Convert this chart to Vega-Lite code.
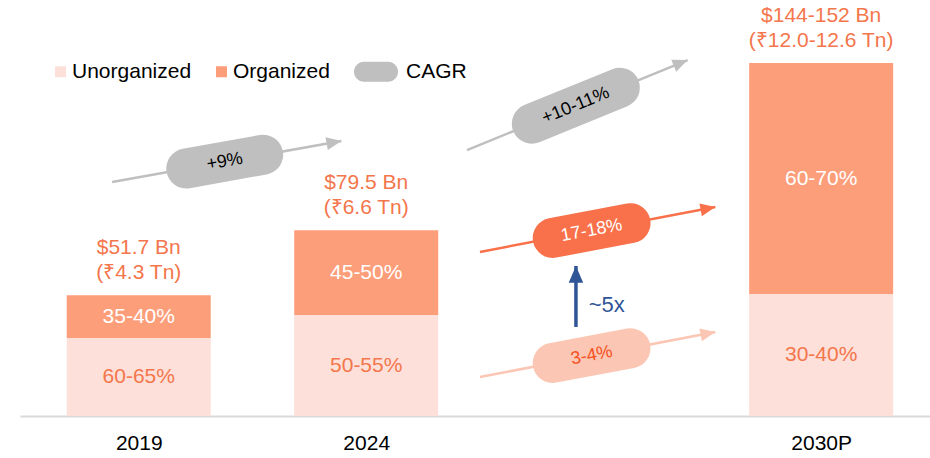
{
  "$schema": "https://vega.github.io/schema/vega-lite/v6.json",
  "width": 910,
  "height": 416,
  "autosize": {"type": "none"},
  "padding": {"left": 20, "top": 0, "right": 0, "bottom": 42},
  "background": "white",
  "config": {"view": {"stroke": null}, "font": "Liberation Sans"},
  "datasets": {
    "bars": [
      {"slot": 0, "year": "2019", "segment": "Unorganized", "value": 33.4, "share": "60-65%"},
      {"slot": 0, "year": "2019", "segment": "Organized", "value": 18.3, "share": "35-40%"},
      {"slot": 1, "year": "2024", "segment": "Unorganized", "value": 43.2, "share": "50-55%"},
      {"slot": 1, "year": "2024", "segment": "Organized", "value": 36.3, "share": "45-50%"},
      {"slot": 3, "year": "2030P", "segment": "Unorganized", "value": 52.2, "share": "30-40%"},
      {"slot": 3, "year": "2030P", "segment": "Organized", "value": 98.8, "share": "60-70%"}
    ],
    "totals": [
      {"slot": 0, "total": 51.7, "label": "$51.7 Bn\n(₹4.3 Tn)"},
      {"slot": 1, "total": 79.5, "label": "$79.5 Bn\n(₹6.6 Tn)"},
      {"slot": 3, "total": 151, "label": "$144-152 Bn\n(₹12.0-12.6 Tn)"}
    ],
    "arrows": [
      {"kind": "gray", "x": -0.117, "y": 100.1, "x2": 0.891, "y2": 117.7},
      {"kind": "gray", "x": 1.443, "y": 113.8, "x2": 2.413, "y2": 152.3},
      {"kind": "orange", "x": 1.5, "y": 70.2, "x2": 2.535, "y2": 89.4},
      {"kind": "light", "x": 1.5, "y": 16.7, "x2": 2.535, "y2": 35.9},
      {"kind": "blue", "x": 1.922, "y": 38.1, "x2": 1.922, "y2": 64.2}
    ],
    "pills": [
      {"kind": "gray", "x": 0.209, "y": 105.9, "x2": 0.547, "y2": 111.8, "label": "+9%"},
      {"kind": "gray", "x": 1.728, "y": 125.1, "x2": 2.115, "y2": 140.5, "label": "+10-11%"},
      {"kind": "orange", "x": 1.82, "y": 76.2, "x2": 2.162, "y2": 82.5, "label": "17-18%"},
      {"kind": "light", "x": 1.82, "y": 22.7, "x2": 2.162, "y2": 29.0, "label": "3-4%"}
    ],
    "callout": [
      {"x": 1.978, "y": 47.5, "label": "~5x"}
    ]
  },
  "layer": [
    {
      "data": {"name": "bars"},
      "transform": [
        {"stack": "value", "groupby": ["slot"], "sort": [{"field": "segment", "order": "descending"}], "as": ["v0", "v1"]},
        {"calculate": "(datum.v0 + datum.v1) / 2", "as": "mid"}
      ],
      "layer": [
        {
          "mark": {"type": "bar", "size": 144},
          "encoding": {
            "x": {
              "field": "slot", "type": "quantitative",
              "scale": {"domain": [-0.5, 3.4565], "nice": false, "zero": false},
              "axis": {
                "values": [0, 1, 3],
                "labelExpr": "datum.value == 0 ? '2019' : datum.value == 1 ? '2024' : '2030P'",
                "grid": false, "ticks": false, "title": null,
                "domainColor": "#d9d9d9", "domainWidth": 2,
                "labelFontSize": 21, "labelColor": "#000000", "labelPadding": 16,
                "labelFont": "Liberation Sans"
              }
            },
            "y": {"field": "v0", "type": "quantitative", "scale": {"domain": [0, 178], "nice": false}, "axis": null},
            "y2": {"field": "v1"},
            "color": {
              "field": "segment", "type": "nominal",
              "scale": {"domain": ["Unorganized", "Organized", "CAGR"], "range": ["#fde0d9", "#fd9e7b", "#bfbfbf"]},
              "legend": {
                "orient": "none", "legendX": 35, "legendY": 61,
                "direction": "horizontal", "title": null,
                "labelFontSize": 21, "labelColor": "#000000", "labelFont": "Liberation Sans",
                "symbolType": "square", "symbolSize": 121, "symbolStrokeWidth": 0,
                "labelOffset": -4, "columnPadding": 24, "padding": 0,
                "encode": {
                  "symbols": {"update": {
                    "shape": {"signal": "datum.value === 'CAGR' ? 'M-2.18,-1.82L2.18,-1.82A1.82,1.82 0 0 1 2.18,1.82L-2.18,1.82A1.82,1.82 0 0 1 -2.18,-1.82Z' : 'square'"},
                    "x": {"signal": "datum.value === 'CAGR' ? 22 : 5.5"}
                  }},
                  "labels": {"update": {
                    "dx": {"signal": "datum.value === 'CAGR' ? 35 : 0"}
                  }}
                }
              }
            }
          }
        },
        {
          "mark": {"type": "text", "fontSize": 21, "baseline": "middle", "align": "center"},
          "encoding": {
            "x": {"field": "slot", "type": "quantitative"},
            "y": {"field": "mid", "type": "quantitative"},
            "text": {"field": "share"},
            "color": {"condition": {"test": "datum.segment === 'Organized'", "value": "#ffffff"}, "value": "#f4764c"}
          }
        }
      ]
    },
    {
      "data": {"name": "totals"},
      "mark": {"type": "text", "fontSize": 21, "baseline": "bottom", "align": "center", "lineBreak": "\n", "lineHeight": 25, "dy": -37, "color": "#f4764c"},
      "encoding": {
        "x": {"field": "slot", "type": "quantitative"},
        "y": {"field": "total", "type": "quantitative"},
        "text": {"field": "label"}
      }
    },
    {
      "data": {"name": "arrows"},
      "mark": {"type": "rule"},
      "encoding": {
        "x": {"field": "x", "type": "quantitative"},
        "y": {"field": "y", "type": "quantitative"},
        "x2": {"field": "x2"},
        "y2": {"field": "y2"},
        "stroke": {
          "field": "kind", "type": "nominal",
          "scale": {"domain": ["gray", "orange", "light", "blue"], "range": ["#bfbfbf", "#f8714a", "#fbc6b3", "#2f5597"]},
          "legend": null
        },
        "strokeWidth": {"condition": {"test": "datum.kind === 'blue'", "value": 3.5}, "value": 2.5}
      }
    },
    {
      "data": {"name": "arrows"},
      "mark": {
        "type": "point", "filled": true, "opacity": 1, "strokeWidth": 0,
        "shape": "M0,0L-1.5,-0.65L-1.5,0.65Z",
        "angle": {"expr": "atan2(scale('y', datum.y2) - scale('y', datum.y), scale('x', datum.x2) - scale('x', datum.x)) * 180 / PI"}
      },
      "encoding": {
        "x": {"field": "x2", "type": "quantitative"},
        "y": {"field": "y2", "type": "quantitative"},
        "fill": {
          "field": "kind", "type": "nominal",
          "scale": {"domain": ["gray", "orange", "light", "blue"], "range": ["#bfbfbf", "#f8714a", "#fbc6b3", "#2f5597"]},
          "legend": null
        },
        "size": {"condition": {"test": "datum.kind === 'blue'", "value": 500}, "value": 400}
      }
    },
    {
      "data": {"name": "pills"},
      "transform": [
        {"calculate": "(datum.x + datum.x2) / 2", "as": "mx"},
        {"calculate": "(datum.y + datum.y2) / 2", "as": "my"}
      ],
      "layer": [
        {
          "mark": {"type": "rule", "strokeWidth": 40, "strokeCap": "round"},
          "encoding": {
            "x": {"field": "x", "type": "quantitative"},
            "y": {"field": "y", "type": "quantitative"},
            "x2": {"field": "x2"},
            "y2": {"field": "y2"},
            "stroke": {"field": "kind", "type": "nominal", "legend": null}
          }
        },
        {
          "mark": {
            "type": "text", "fontSize": 18, "align": "center", "baseline": "middle",
            "angle": {"expr": "atan2(scale('y', datum.y2) - scale('y', datum.y), scale('x', datum.x2) - scale('x', datum.x)) * 180 / PI"}
          },
          "encoding": {
            "x": {"field": "mx", "type": "quantitative"},
            "y": {"field": "my", "type": "quantitative"},
            "text": {"field": "label"},
            "color": {
              "condition": [
                {"test": "datum.kind === 'orange'", "value": "#ffffff"},
                {"test": "datum.kind === 'light'", "value": "#f4511e"}
              ],
              "value": "#000000"
            }
          }
        }
      ]
    },
    {
      "data": {"name": "callout"},
      "mark": {"type": "text", "fontSize": 22, "align": "left", "baseline": "middle", "color": "#2f5597"},
      "encoding": {
        "x": {"field": "x", "type": "quantitative"},
        "y": {"field": "y", "type": "quantitative"},
        "text": {"field": "label"}
      }
    }
  ]
}
